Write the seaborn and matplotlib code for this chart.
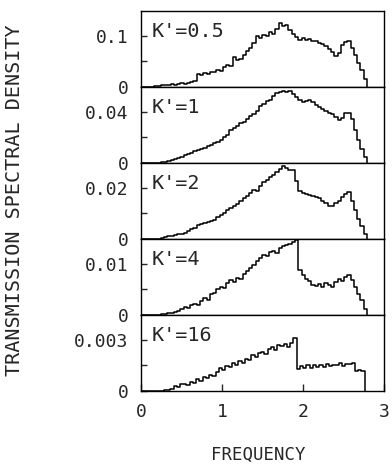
import numpy as np
import pandas as pd
import matplotlib
matplotlib.use("Agg")
import matplotlib.pyplot as plt
import seaborn as sns

# ---------------- data ----------------
bin_width = 0.04
n_bins = 69
freq = np.round(np.arange(n_bins) * bin_width, 2)   # bin starts (FREQUENCY)
f_end = round(n_bins * bin_width, 2)                # spectrum cut-off

k_labels = ["K'=0.5", "K'=1", "K'=2", "K'=4", "K'=16"]

s_k05 = np.array([0, 0, 0, 1, 2, 2, 3, 3, 4, 5, 4, 6, 7, 6, 8, 9, 11, 25, 24, 27,
                  26, 29, 30, 33, 31, 38, 42, 40, 58, 52, 55, 63, 70, 76, 86, 100, 95, 101, 99, 107,
                  104, 113, 124, 118, 121, 110, 104, 98, 92, 96, 91, 94, 89, 90, 86, 84, 80, 74, 69, 60,
                  66, 82, 88, 90, 75, 62, 46, 33, 16]) * 1e-3

s_k1 = np.array([0, 0, 0, 1, 2, 4, 6, 9, 14, 22, 33, 42, 50, 60, 72, 80, 92, 100, 112, 120,
                 132, 140, 155, 165, 180, 200, 218, 260, 275, 290, 310, 322, 340, 365, 380, 405, 440, 460, 478, 492,
                 520, 540, 552, 562, 550, 558, 535, 512, 490, 470, 480, 488, 470, 450, 432, 420, 405, 392, 380, 360,
                 335, 350, 385, 390, 345, 255, 180, 110, 45]) * 1e-4

s_k2 = np.array([0, 0, 0, 0, 1, 2, 3, 8, 13, 14, 17, 19, 22, 26, 31, 38, 45, 55, 58, 62,
                 66, 70, 75, 85, 92, 100, 112, 122, 128, 136, 148, 160, 168, 178, 192, 188, 205, 222, 228, 240,
                 250, 262, 272, 282, 278, 270, 268, 225, 188, 180, 176, 172, 168, 162, 158, 150, 140, 128, 130, 140,
                 150, 162, 175, 182, 150, 112, 80, 50, 20]) * 1e-4

s_k4 = np.array([0, 0, 0, 0, 0, 1, 2, 3, 4, 5, 6, 8, 12, 16, 14, 20, 22, 19, 28, 33,
                 30, 42, 44, 50, 55, 52, 63, 68, 65, 72, 70, 80, 86, 92, 98, 104, 110, 117, 114, 122,
                 125, 120, 130, 133, 136, 138, 142, 145, 88, 78, 70, 66, 58, 56, 60, 55, 62, 58, 54, 64,
                 70, 66, 74, 77, 68, 55, 42, 30, 12]) * 1e-4

s_k16 = np.array([0, 0, 0, 0, 0, 0, 0, 8, 10, 14, 30, 26, 40, 44, 38, 52, 48, 70, 62, 85,
                  78, 92, 88, 110, 138, 125, 148, 140, 162, 150, 178, 165, 190, 180, 212, 198, 222, 230, 218, 248,
                  255, 240, 268, 262, 275, 258, 282, 310, 130, 145, 135, 152, 138, 150, 140, 155, 142, 160, 148, 155,
                  150, 162, 145, 160, 158, 162, 120, 122, 118]) * 1e-5

series = [s_k05, s_k1, s_k2, s_k4, s_k16]
y_top_ticks = [0.1, 0.04, 0.02, 0.01, 0.003]
y_top_labels = ["0.1", "0.04", "0.02", "0.01", "0.003"]
y_limits = [0.148, 0.059, 0.0295, 0.0147, 0.0044]
x_ticks = [0, 1, 2, 3]

# ---------------- plot ----------------
sns.set_style("ticks")
mono = ["DejaVu Sans Mono", "DejaVu Sans"]
plt.rcParams["font.family"] = mono

fig = plt.figure(figsize=(3.92, 4.75), dpi=100)
gs = fig.add_gridspec(5, 1, left=0.36, right=0.98, top=0.977, bottom=0.176, hspace=0)
axes = [fig.add_subplot(gs[i]) for i in range(5)]

for i, ax in enumerate(axes):
    df = pd.DataFrame({"FREQUENCY": np.append(freq, f_end),
                       "DENSITY": np.append(series[i], 0.0)})
    sns.lineplot(data=df, x="FREQUENCY", y="DENSITY", ax=ax, color="black",
                 lw=1.1, drawstyle="steps-post", estimator=None)
    ax.set_xlim(0, 2.97)
    ax.set_ylim(0, y_limits[i])
    ax.set_yticks([0, y_top_ticks[i] / 2, y_top_ticks[i]])
    ax.set_yticklabels(["0", "", y_top_labels[i]])
    ax.set_xlabel("")
    ax.set_ylabel("")
    ax.tick_params(axis="y", direction="in", length=4, width=1, labelsize=13, pad=9)
    ax.tick_params(axis="x", direction="in", length=5, width=1, labelsize=13, pad=8)
    for sp in ax.spines.values():
        sp.set_visible(True)
        sp.set_linewidth(1.0)
        sp.set_color("black")
    ax.text(0.045, 0.73, k_labels[i], transform=ax.transAxes, ha="left", va="center",
            fontsize=14.5, family=mono)
    if i < 4:
        ax.set_xticks([])
    else:
        ax.set_xticks(x_ticks)
        ax.set_xticklabels([str(t) for t in x_ticks])

fig.text(0.036, 0.578, "TRANSMISSION SPECTRAL DENSITY", rotation=90, ha="center", va="center",
         fontsize=14.5, family=mono)
fig.text(0.658, 0.042, "FREQUENCY", ha="center", va="center", fontsize=12.5, family=mono)

fig.savefig("out.png", dpi=100)
